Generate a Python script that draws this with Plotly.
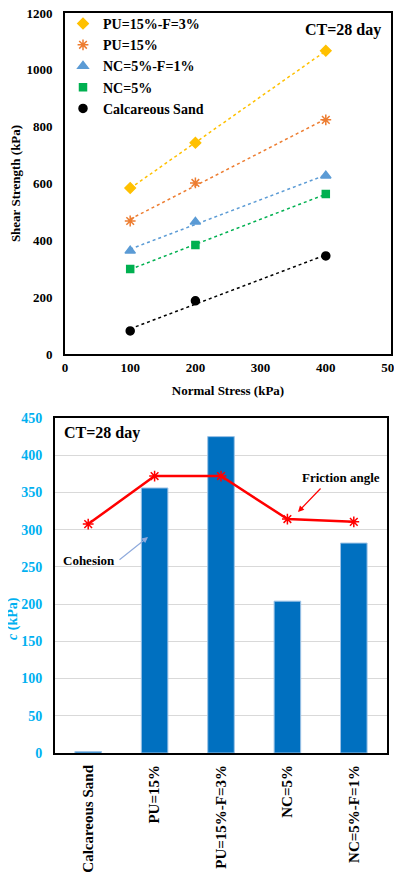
import numpy as np
import plotly.graph_objects as go

# ---- top chart data ----
normal_stress = [100, 200, 400]
pu15_f3 = [584, 743, 1067]
pu15 = [468, 602, 824]
nc5_f1 = [363, 465, 627]
nc5 = [299, 384, 563]
calc_sand = [81, 187, 345]

# ---- bottom chart data ----
categories = ["Calcareous Sand", "PU=15%", "PU=15%-F=3%", "NC=5%", "NC=5%-F=1%"]
cohesion = [2, 356, 425, 204, 282]
friction = [41.0, 49.6, 49.6, 41.9, 41.4]

FONT = "Liberation Serif"
W, H = 402, 879
OFF = 8  # page body margin


def px(x):
    return (x - OFF) / W


def py(y):
    return 1 - (y - OFF) / H


fig = go.Figure()

series = [
    ("PU=15%-F=3%", pu15_f3, "#FFC000", "diamond", 8),
    ("PU=15%", pu15, "#ED7D31", "asterisk-open", 9),
    ("NC=5%-F=1%", nc5_f1, "#5B9BD5", "triangle-up", 9),
    ("NC=5%", nc5, "#00B050", "square", 7),
    ("Calcareous Sand", calc_sand, "#000000", "circle", 8),
]
for name, vals, col, sym, sz in series:
    k, b = np.polyfit(normal_stress, vals, 1)
    xs = [min(normal_stress), max(normal_stress)]
    fig.add_trace(go.Scatter(x=xs, y=[k * v + b for v in xs], mode="lines",
                             line=dict(color=col, width=1.5, dash="dot"),
                             showlegend=False, hoverinfo="skip", xaxis="x", yaxis="y"))
for name, vals, col, sym, sz in series:
    fig.add_trace(go.Scatter(x=normal_stress, y=vals, mode="markers", name=name,
                             marker=dict(color=col, symbol=sym, size=sz,
                                         line=dict(color=col, width=1.5)),
                             xaxis="x", yaxis="y"))

fig.add_trace(go.Bar(x=categories, y=cohesion, marker=dict(color="#0070C0", line=dict(color="#9DC3E6", width=1)),
                     width=0.4, showlegend=False, xaxis="x2", yaxis="y2"))
fig.add_trace(go.Scatter(x=categories, y=friction, mode="lines+markers",
                         line=dict(color="#FF0000", width=2.5),
                         marker=dict(symbol="asterisk-open", size=9, color="#FF0000",
                                     line=dict(color="#FF0000", width=1.5)),
                         showlegend=False, xaxis="x2", yaxis="y3"))

fig.update_layout(
    width=W, height=H, margin=dict(l=0, r=0, t=0, b=0, autoexpand=False),
    paper_bgcolor="white", plot_bgcolor="white",
    font=dict(family=FONT, color="black"),
    showlegend=True,
    legend=dict(x=px(63), y=1.0, xanchor="left", yanchor="top",
                font=dict(family=FONT, size=14, color="black", weight="bold"),
                bgcolor="rgba(0,0,0,0)", tracegroupgap=0, itemwidth=30),
    xaxis=dict(domain=[px(65), px(391)], range=[0, 500], dtick=100, anchor="y",
               showline=True, mirror=True, linecolor="black", linewidth=2, showgrid=False,
               zeroline=False, automargin=False, ticklabeloverflow="allow",
               tickfont=dict(family=FONT, size=13, color="black", weight="bold"),
               title=dict(text="<b>Normal Stress (kPa)</b>", font=dict(family=FONT, size=13), standoff=12)),
    yaxis=dict(domain=[py(354), py(13)], range=[0, 1200], dtick=200, anchor="x",
               showline=True, mirror=True, linecolor="black", linewidth=2, showgrid=False,
               zeroline=False, automargin=False, ticklabeloverflow="allow",
               tickfont=dict(family=FONT, size=13, color="black", weight="bold"),
               ticklabelstandoff=8,
               title=dict(text="<b>Shear Strength (kPa)</b>", font=dict(family=FONT, size=13), standoff=6)),
    xaxis2=dict(domain=[px(55), px(387)], anchor="y2", showline=True, mirror=True,
                linecolor="black", linewidth=2, tickangle=-90, automargin=False,
                ticklabelstandoff=4, ticklabeloverflow="allow",
                tickfont=dict(family=FONT, size=15, color="black", weight="bold")),
    yaxis2=dict(domain=[py(753), py(418)], range=[0, 450], dtick=50, anchor="x2",
                showline=True, mirror=True, linecolor="black", linewidth=2,
                showgrid=True, gridcolor="#D9D9D9", gridwidth=1, zeroline=False,
                automargin=False, ticklabeloverflow="allow",
                tickfont=dict(family=FONT, size=14, color="#00B0F0", weight="bold"),
                ticklabelstandoff=8),
    yaxis3=dict(range=[0, 60], dtick=10, overlaying="y2", side="right", anchor="x2",
                showgrid=False, zeroline=False, showline=False, automargin=False,
                ticklabeloverflow="allow",
                tickfont=dict(family=FONT, size=14, color="#FF0000", weight="bold"),
                ticklabelstandoff=6),
)

fig.add_annotation(text="<b><i>c</i> (kPa)</b>", xref="paper", yref="paper", x=px(13), y=py(619),
                   xanchor="center", yanchor="middle", showarrow=False, textangle=-90,
                   font=dict(family=FONT, size=14, color="#00B0F0"))
fig.add_annotation(text="<b>CT=28 day</b>", xref="paper", yref="paper", x=px(383), y=py(30),
                   xanchor="right", yanchor="middle", showarrow=False,
                   font=dict(family=FONT, size=16, color="black"))
fig.add_annotation(text="<b>CT=28 day</b>", xref="paper", yref="paper", x=px(62), y=py(433),
                   xanchor="left", yanchor="middle", showarrow=False,
                   font=dict(family=FONT, size=16, color="black"))
fig.add_annotation(text="<b>Friction angle</b>", xref="paper", yref="paper", x=px(341), y=py(477),
                   xanchor="center", yanchor="middle", showarrow=False,
                   font=dict(family=FONT, size=13, color="black"))
fig.add_annotation(xref="paper", yref="paper", x=px(298), y=py(512),
                   ax=24, ay=-25, text="",
                   showarrow=True, arrowcolor="#FF0000", arrowhead=2, arrowwidth=1.2)
fig.add_annotation(text="<b>Cohesion</b>", xref="paper", yref="paper", x=px(89), y=py(560),
                   xanchor="center", yanchor="middle", showarrow=False,
                   font=dict(family=FONT, size=13, color="black"))
fig.add_annotation(xref="paper", yref="paper", x=px(148), y=py(537),
                   ax=-30, ay=24, text="",
                   showarrow=True, arrowcolor="#8FAADC", arrowhead=2, arrowwidth=1.2)

fig.write_html("out.html")
